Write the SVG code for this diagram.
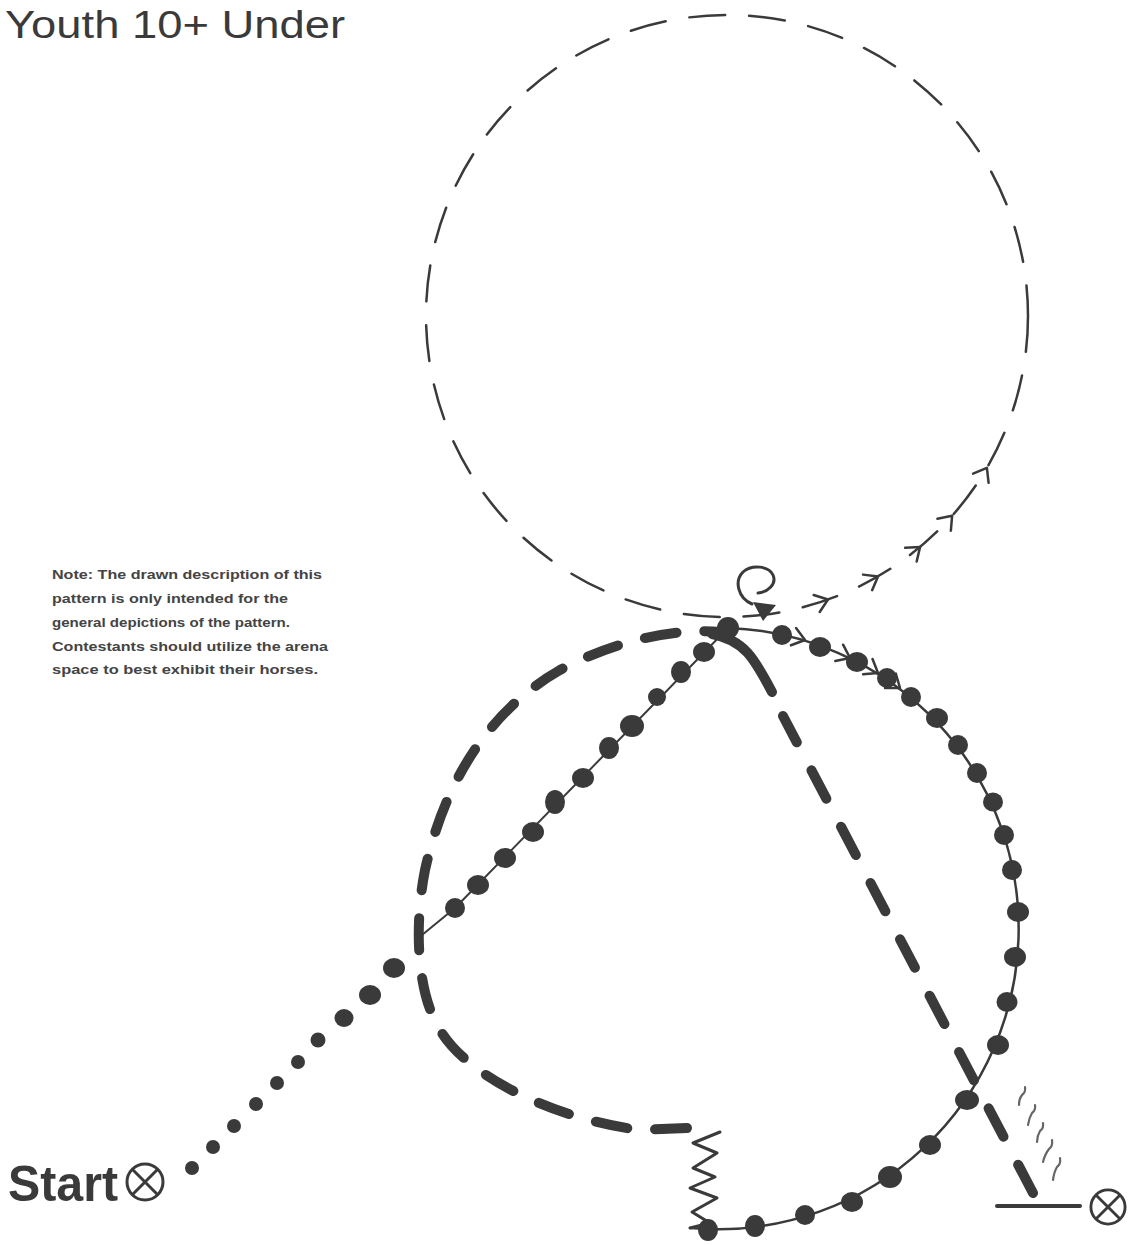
<svg xmlns="http://www.w3.org/2000/svg" width="1129" height="1245" viewBox="0 0 1129 1245">
<style>
.ink{stroke:#3a3a3a;fill:none;stroke-linecap:round;stroke-linejoin:round}
.dot{fill:#3a3a3a}
.thin{stroke-width:2.5}
.big{stroke-width:10;stroke-dasharray:32 28}
.note{font-family:"Liberation Sans",Arial,sans-serif;font-weight:bold;font-size:12.5px;fill:#444444}
</style>
<defs>
<path id="chev" d="M -12 -9 L 0 0 L -12 9" fill="none" stroke="#3a3a3a" stroke-width="2.5" stroke-linecap="round" stroke-linejoin="round"/>
<g id="xo"><circle r="18" fill="none" stroke="#3a3a3a" stroke-width="3"/><path d="M -12.7 -12.7 L 12.7 12.7 M -12.7 12.7 L 12.7 -12.7" stroke="#3a3a3a" stroke-width="3"/></g>
</defs>
<rect width="1129" height="1245" fill="#ffffff"/>

<g id="title">
<text x="5" y="38" font-family="Liberation Sans, sans-serif" font-size="38" fill="#3a3a3a" textLength="340" lengthAdjust="spacingAndGlyphs">Youth 10+ Under</text>
</g>

<g id="note">
<text class="note" x="52" y="579" textLength="270" lengthAdjust="spacingAndGlyphs">Note: The drawn description of this</text>
<text class="note" x="52" y="603" textLength="236" lengthAdjust="spacingAndGlyphs">pattern is only intended for the</text>
<text class="note" x="52" y="627" textLength="238" lengthAdjust="spacingAndGlyphs">general depictions of the pattern.</text>
<text class="note" x="52" y="651" textLength="276" lengthAdjust="spacingAndGlyphs">Contestants should utilize the arena</text>
<text class="note" x="52" y="674" textLength="266" lengthAdjust="spacingAndGlyphs">space to best exhibit their horses.</text>
</g>

<g id="connectors">
<g id="upper-circle">
<circle class="ink thin" cx="727" cy="316" r="301" stroke-dasharray="36 24"/>
<use href="#chev" transform="translate(828 599.5) rotate(-19.6)"/>
<use href="#chev" transform="translate(878 576.4) rotate(-30.1)"/>
<use href="#chev" transform="translate(920.1 546.9) rotate(-39.9)"/>
<use href="#chev" transform="translate(952.1 515.8) rotate(-48.4)"/>
<use href="#chev" transform="translate(986.9 467.9) rotate(-59.7)"/>
</g>

<g id="spin">
<path class="ink" stroke-width="3" d="M 758 593 C 768 592 777 584 773 575 C 769 566 752 564 743 572 C 734 581 738 598 752 604"/>
<path d="M 753 602 L 776 605 L 763 621 Z" fill="#3a3a3a"/>
</g>

<g id="lower-loop">
<path class="ink big" d="M 687 1128 L 640 1130 C 560 1120 470 1080 440 1030 C 415 990 415 920 425 870 C 445 780 490 710 560 670 C 620 638 680 628 720 632"/>
<path class="ink" stroke-width="10" d="M 712 634 C 745 640 755 660 772 692"/>
<path class="ink" stroke-width="10" stroke-dasharray="32 31.6" d="M 1033 1193 L 783 716"/>
</g>

<g id="start-line">
<path class="ink" stroke-width="2" d="M 422 935 L 455 908 L 728 628"/>
<circle class="dot" cx="192" cy="1168" r="7"/>
<circle class="dot" cx="213" cy="1147" r="7"/>
<circle class="dot" cx="234" cy="1126" r="7"/>
<circle class="dot" cx="256" cy="1104" r="7"/>
<circle class="dot" cx="277" cy="1083" r="7"/>
<circle class="dot" cx="298" cy="1062" r="7"/>
<circle class="dot" cx="318" cy="1040" r="7.5"/>
<ellipse class="dot" cx="344" cy="1018" rx="9.5" ry="9"/>
<ellipse class="dot" cx="370" cy="995" rx="11" ry="10"/>
<ellipse class="dot" cx="394" cy="968" rx="11" ry="10"/>
<ellipse class="dot" cx="455" cy="908" rx="10" ry="10"/>
<ellipse class="dot" cx="478" cy="885" rx="11" ry="10"/>
<ellipse class="dot" cx="505" cy="858" rx="11" ry="10"/>
<ellipse class="dot" cx="533" cy="832" rx="11" ry="10"/>
<ellipse class="dot" cx="555" cy="802" rx="10" ry="12"/>
<ellipse class="dot" cx="583" cy="778" rx="11" ry="10"/>
<ellipse class="dot" cx="609" cy="748" rx="10" ry="11"/>
<ellipse class="dot" cx="632" cy="726" rx="12" ry="11"/>
<ellipse class="dot" cx="657" cy="697" rx="9" ry="9"/>
<ellipse class="dot" cx="681" cy="672" rx="10" ry="11"/>
<ellipse class="dot" cx="704" cy="652" rx="11" ry="10"/>
<ellipse class="dot" cx="728" cy="628" rx="11" ry="11"/>
</g>

<g id="dotted-circle">
<path class="ink" stroke-width="2.5" d="M 728 628 A 300 300 0 0 1 708 1229 L 690 1228"/>
<use href="#chev" transform="translate(805 640) rotate(16.5)"/>
<use href="#chev" transform="translate(850 658) rotate(25.7)"/>
<use href="#chev" transform="translate(878 673) rotate(31.8)"/>
<use href="#chev" transform="translate(900 688) rotate(36.9)"/>
<ellipse class="dot" cx="782" cy="635" rx="10" ry="10"/>
<ellipse class="dot" cx="820" cy="647" rx="11" ry="10"/>
<ellipse class="dot" cx="857" cy="662" rx="11" ry="10"/>
<ellipse class="dot" cx="887" cy="678" rx="10" ry="10"/>
<ellipse class="dot" cx="911" cy="697" rx="10" ry="10"/>
<ellipse class="dot" cx="937" cy="718" rx="11" ry="10"/>
<ellipse class="dot" cx="958" cy="745" rx="10" ry="10"/>
<ellipse class="dot" cx="977" cy="773" rx="10" ry="10"/>
<ellipse class="dot" cx="993" cy="802" rx="10" ry="9.5"/>
<ellipse class="dot" cx="1004" cy="835" rx="10" ry="10"/>
<ellipse class="dot" cx="1012" cy="870" rx="10" ry="10"/>
<ellipse class="dot" cx="1018" cy="912" rx="11" ry="10"/>
<ellipse class="dot" cx="1015" cy="957" rx="11" ry="10"/>
<ellipse class="dot" cx="1007" cy="1002" rx="10.5" ry="10"/>
<ellipse class="dot" cx="998" cy="1045" rx="11" ry="10"/>
<ellipse class="dot" cx="967" cy="1100" rx="12" ry="10"/>
<ellipse class="dot" cx="930" cy="1145" rx="11" ry="10"/>
<ellipse class="dot" cx="890" cy="1177" rx="12" ry="11"/>
<ellipse class="dot" cx="852" cy="1202" rx="11" ry="10"/>
<ellipse class="dot" cx="805" cy="1215" rx="10" ry="10"/>
<ellipse class="dot" cx="755" cy="1226" rx="10" ry="11"/>
<ellipse class="dot" cx="708" cy="1230" rx="10" ry="11"/>
</g>

<g id="zigzag">
<path class="ink" stroke-width="3" d="M 720 1132 L 693 1143 L 717 1153 L 693 1168 L 715 1177 L 690 1188 L 717 1198 L 692 1212 L 710 1223 L 690 1228"/>
</g>
</g>

<g id="start">
<text x="8" y="1201" font-family="Liberation Sans, Arial, sans-serif" font-weight="bold" font-size="50" fill="#3a3a3a" textLength="110" lengthAdjust="spacingAndGlyphs">Start</text>
<use href="#xo" transform="translate(145 1182)"/>
</g>

<g id="finish">
<path class="ink" stroke-width="4" d="M 997 1206 L 1080 1206"/>
<use href="#xo" transform="translate(1108 1207) scale(0.95)"/>
<g stroke="#666" stroke-width="2.2" fill="none" stroke-linecap="round">
<path d="M 1025 1087 q 1 5 -3 8 q -3 4 -3 10"/>
<path d="M 1035 1105 q 1 5 -3 8 q -3 5 -4 12"/>
<path d="M 1043 1123 q 1 5 -3 8 q -3 5 -3 11"/>
<path d="M 1052 1140 q 1 6 -3 9 q -4 5 -6 13"/>
<path d="M 1060 1158 q 1 6 -3 9 q -3 5 -4 13"/>
</g>
</g>
</svg>
